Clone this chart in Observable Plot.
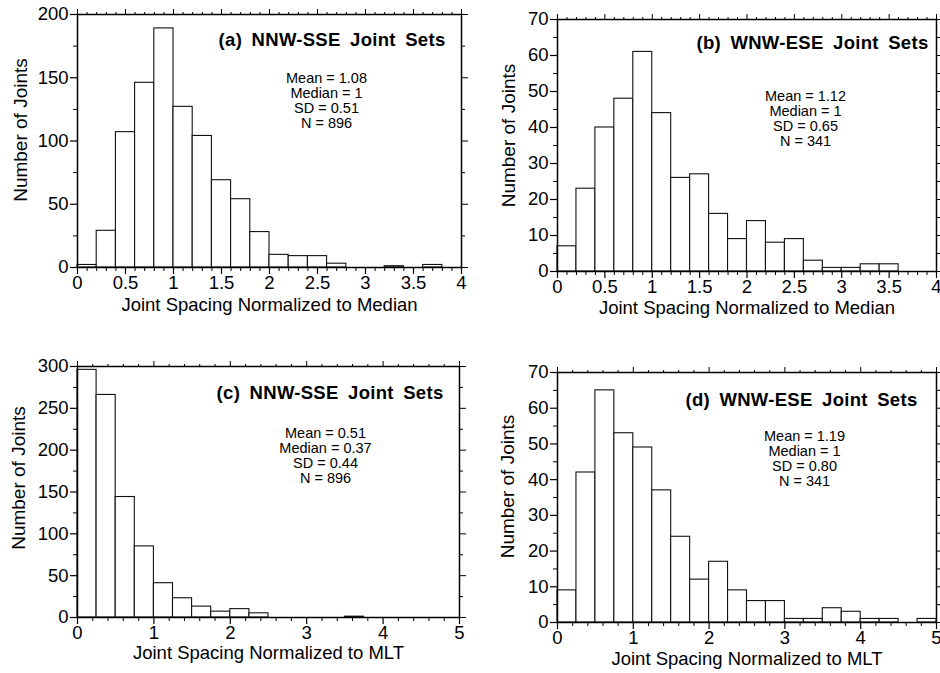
<!DOCTYPE html>
<html><head><meta charset="utf-8">
<script src="https://cdn.jsdelivr.net/npm/d3@7"></script>
<script src="https://cdn.jsdelivr.net/npm/@observablehq/plot@0.6"></script>
<style>
body{margin:0;background:#fff;}
#wrap{position:relative;width:940px;height:673px;overflow:hidden;background:#fff;}
#wrap > svg{position:absolute;}
</style></head><body><div id="wrap"></div>
<script>
// ---- data ----
const binEdgesMedian = [0,0.2,0.4,0.6,0.8,1.0,1.2,1.4,1.6,1.8,2.0,2.2,2.4,2.6,2.8,3.0,3.2,3.4,3.6,3.8,4.0];
const binEdgesMLT = [0,0.25,0.5,0.75,1.0,1.25,1.5,1.75,2.0,2.25,2.5,2.75,3.0,3.25,3.5,3.75,4.0,4.25,4.5,4.75,5.0];
const countsA = [2,29,107,146,189,127,104,69,54,28,10,9,9,3,0,0,1,0,2,0];
const countsB = [7,23,40,48,61,44,26,27,16,9,14,8,9,3,1,1,2,2,0,0];
const countsC = [296,266,144,85,41,23,13,7,10,5,0,0,0,0,1,0,0,0,0,0];
const countsD = [9,42,65,53,49,37,24,12,17,9,6,6,1,1,4,3,1,1,0,1];
const xTicksMedian = [0,0.5,1,1.5,2,2.5,3,3.5,4];
const xTicksMLT = [0,1,2,3,4,5];
const yTicksA = [0,50,100,150,200];
const yTicksB = [0,10,20,30,40,50,60,70];
const yTicksC = [0,50,100,150,200,250,300];
const yTicksD = [0,10,20,30,40,50,60,70];
const titles = ["(a) NNW-SSE Joint Sets","(b) WNW-ESE Joint Sets","(c) NNW-SSE Joint Sets","(d) WNW-ESE Joint Sets"];
const statsA = ["Mean = 1.08","Median = 1","SD = 0.51","N = 896"];
const statsB = ["Mean = 1.12","Median = 1","SD = 0.65","N = 341"];
const statsC = ["Mean = 0.51","Median = 0.37","SD = 0.44","N = 896"];
const statsD = ["Mean = 1.19","Median = 1","SD = 0.80","N = 341"];
const xLabelMedian = "Joint Spacing Normalized to Median";
const xLabelMLT = "Joint Spacing Normalized to MLT";
const yLabel = "Number of Joints";

const FONT = "'Liberation Sans', Arial, Helvetica, sans-serif";
const wrap = document.getElementById("wrap");

function panel(cfg) {
  const data = cfg.counts.map((c, i) => ({x1: cfg.edges[i], x2: cfg.edges[i + 1], count: c}));
  const xMax = cfg.edges[cfg.edges.length - 1];
  const yMax = cfg.yTicks[cfg.yTicks.length - 1];
  const xMinor = d3.range(0, xMax + 1e-9, cfg.xMinorStep).filter(v => !cfg.xTicks.some(t => Math.abs(t - v) < 1e-9));
  const yMinor = d3.range(0, yMax + 1e-9, cfg.yMinorStep).filter(v => !cfg.yTicks.some(t => Math.abs(t - v) < 1e-9));
  const fmt = d => String(d);
  const svg = Plot.plot({
    width: cfg.width, height: cfg.height,
    marginLeft: cfg.m[0], marginRight: cfg.m[1], marginTop: cfg.m[2], marginBottom: cfg.m[3],
    x: {domain: [0, xMax], label: null},
    y: {domain: [0, yMax], label: null},
    style: {fontFamily: FONT, fontSize: "18.5px", color: "#000", background: "white", overflow: "visible"},
    marks: [
      Plot.rect(data, {x1: "x1", x2: "x2", y1: 0, y2: "count", fill: "white", stroke: "#111", strokeWidth: 1.1}),
      Plot.axisX({anchor: "bottom", ticks: cfg.xTicks, tickSize: 7, tickPadding: 1, tickFormat: fmt, label: null, strokeWidth: 1.2}),
      Plot.axisX({anchor: "bottom", ticks: xMinor, tickSize: 4, fill: "none", label: null}),
      Plot.axisX({anchor: "top", ticks: cfg.xTicks, tickSize: 6, fill: "none", label: null}),
      Plot.axisX({anchor: "top", ticks: xMinor, tickSize: 3, fill: "none", label: null}),
      Plot.axisY({anchor: "left", ticks: cfg.yTicks, tickSize: 7, tickPadding: 2, tickFormat: fmt, label: null, strokeWidth: 1.2}),
      Plot.axisY({anchor: "left", ticks: yMinor, tickSize: 4, fill: "none", label: null}),
      Plot.axisY({anchor: "right", ticks: cfg.yTicks, tickSize: 6, fill: "none", label: null}),
      Plot.axisY({anchor: "right", ticks: yMinor, tickSize: 3, fill: "none", label: null}),
      Plot.frame({stroke: "#000", strokeWidth: 1.5}),
      Plot.text([cfg.title], {text: d => d, frameAnchor: "top-right", textAnchor: "end", lineAnchor: "top",
        dx: cfg.titleOff[0], dy: cfg.titleOff[1], fontWeight: "bold", fontSize: 18.5, fill: "#000"}),
      Plot.text([cfg.stats.join("\n")], {text: d => d, frameAnchor: "top-right", textAnchor: "middle", lineAnchor: "top",
        dx: cfg.statsOff[0], dy: cfg.statsOff[1], fontSize: 14.5, lineHeight: 1.03, fill: "#000"}),
      Plot.text([cfg.xLabel], {text: d => d, frameAnchor: "bottom", textAnchor: "middle", lineAnchor: "middle",
        dy: cfg.xLabOff, fontSize: 18.5, fill: "#000"}),
      Plot.text([yLabel], {text: d => d, frameAnchor: "left", textAnchor: "middle", lineAnchor: "middle", rotate: -90,
        dx: cfg.yLabOff[0], dy: cfg.yLabOff[1], fontSize: 19, fill: "#000"})
    ]
  });
  svg.style.left = cfg.left + "px";
  svg.style.top = cfg.top + "px";
  d3.select(svg).selectAll("text").filter(function() { return this.textContent.startsWith("("); })
    .style("word-spacing", "4px").style("letter-spacing", "0.3px");
  wrap.appendChild(svg);
}

panel({edges: binEdgesMedian, counts: countsA, xTicks: xTicksMedian, xMinorStep: 0.1, yTicks: yTicksA, yMinorStep: 25,
  title: titles[0], stats: statsA, xLabel: xLabelMedian,
  left: 0, top: 0, width: 470, height: 330, m: [77, 9, 14, 63],
  titleOff: [-16, 18], statsOff: [-135, 58], xLabOff: 38, yLabOff: [-57, -11]});
panel({edges: binEdgesMedian, counts: countsB, xTicks: xTicksMedian, xMinorStep: 0.1, yTicks: yTicksB, yMinorStep: 5,
  title: titles[1], stats: statsB, xLabel: xLabelMedian,
  left: 470, top: 0, width: 470, height: 330, m: [87, 4, 19, 59],
  titleOff: [-8, 16], statsOff: [-131, 71], xLabOff: 37, yLabOff: [-49, -10]});
panel({edges: binEdgesMLT, counts: countsC, xTicks: xTicksMLT, xMinorStep: 0.2, yTicks: yTicksC, yMinorStep: 25,
  title: titles[2], stats: statsC, xLabel: xLabelMLT,
  left: 0, top: 330, width: 470, height: 343, m: [77, 11, 36, 56],
  titleOff: [-16, 19], statsOff: [-134, 61], xLabOff: 36, yLabOff: [-59, -14]});
panel({edges: binEdgesMLT, counts: countsD, xTicks: xTicksMLT, xMinorStep: 0.2, yTicks: yTicksD, yMinorStep: 5,
  title: titles[3], stats: statsD, xLabel: xLabelMLT,
  left: 470, top: 330, width: 470, height: 343, m: [87, 4, 42, 51],
  titleOff: [-19, 20], statsOff: [-132, 58], xLabOff: 37, yLabOff: [-50, -11]});
</script></body></html>
